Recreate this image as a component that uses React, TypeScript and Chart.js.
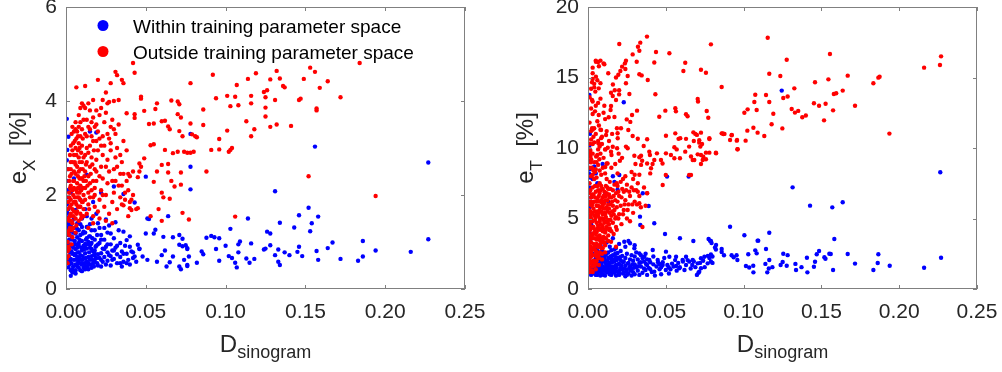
import { useEffect, useRef } from "react";
import { Chart, registerables } from "chart.js";
Chart.register(...registerables);

type Pt = [number, number];

const X_TICKS = [0, 0.05, 0.1, 0.15, 0.2, 0.25];
const EX_TICKS = [0, 2, 4, 6];
const ET_TICKS = [0, 5, 10, 15, 20];
const SERIES_NAMES = ["Within training parameter space", "Outside training parameter space"];
const X_TITLE = ["D", "sinogram"];
const EX_TITLE = ["e", "X", "  [%]"];
const ET_TITLE = ["e", "T", "  [%]"];

const EX_WITHIN: Pt[] = [
  [0.227,2.69],[0.156,3.03],[0.078,3.30],[0.078,2.60],[0.078,2.12],[0.131,2.08],[0.227,1.06],[0.152,1.73],[0.158,1.54],[0.146,1.57],
  [0.154,1.40],[0.153,1.23],[0.143,1.31],[0.134,1.41],[0.126,1.22],[0.128,1.18],[0.114,1.50],[0.103,1.28],[0.091,1.13],[0.093,1.10],
  [0.088,1.09],[0.096,1.08],[0.100,0.92],[0.109,1.01],[0.108,0.95],[0.116,0.97],[0.108,0.78],[0.102,0.70],[0.104,0.66],[0.106,0.56],
  [0.107,0.46],[0.113,0.65],[0.115,0.56],[0.118,0.64],[0.124,0.84],[0.125,0.86],[0.128,0.93],[0.133,0.84],[0.131,0.72],[0.133,0.58],
  [0.134,0.51],[0.137,0.78],[0.140,0.72],[0.145,0.79],[0.146,0.90],[0.148,0.70],[0.157,0.81],[0.158,0.62],[0.164,0.87],[0.167,0.99],
  [0.172,0.64],[0.183,0.60],[0.186,0.69],[0.186,1.02],[0.194,0.82],[0.216,0.79],[0.094,0.85],[0.096,0.60],[0.085,0.80],[0.086,0.74],
  [0.082,0.56],[0.076,0.49],[0.074,0.62],[0.076,0.85],[0.075,0.93],[0.073,1.07],[0.050,2.39],[0.043,1.84],[0.036,2.02],[0.022,2.05],
  [0.013,2.43],[0.015,3.35],[0.019,3.33],[0.0015,3.24],[0.0005,3.62],[0.0008,2.96],[0.0005,2.74],[0.064,1.55],[0.052,1.49],[0.056,1.26],
  [0.050,1.18],[0.055,1.18],[0.061,1.11],[0.067,1.10],[0.071,1.15],[0.071,0.94],[0.073,0.91],[0.076,0.87],[0.045,0.94],[0.046,0.86],
  [0.042,0.78],[0.040,0.90],[0.038,1.04],[0.043,0.69],[0.048,0.69],[0.051,0.62],[0.057,0.58],[0.060,0.72],[0.062,0.82],[0.063,0.48],
  [0.065,0.57],[0.067,0.69],[0.071,0.48],[0.072,0.42],[0.077,0.69],[0.076,0.51],[0.030,2.18],[0.051,1.50],
  [0.001,2.55],[0.0006,2.30],[0.001,2.10],[0.0012,1.95],[0.0007,1.80],[0.0015,1.70],[0.0009,1.62],[0.002,1.55],[0.001,1.45],[0.0018,1.38],
  [0.0012,1.30],[0.0025,1.22],[0.0015,1.15],[0.002,1.05],[0.0008,0.98],[0.003,0.92],[0.0012,0.85],[0.0025,0.78],[0.0018,0.70],[0.003,0.64],
  [0.001,0.58],[0.0022,0.52],[0.0015,0.46],[0.003,0.40],[0.004,0.35],[0.003,0.28],[0.006,0.33],
  [0.004,1.45],[0.005,1.30],[0.006,1.18],[0.004,1.05],[0.005,0.95],[0.006,0.85],[0.004,0.75],[0.005,0.62],[0.006,0.52],[0.007,1.40],
  [0.008,1.25],[0.007,1.10],[0.008,0.98],[0.007,0.88],[0.008,0.78],[0.007,0.68],[0.008,0.58],[0.007,0.48],[0.009,0.40],[0.010,1.50],
  [0.010,1.32],[0.009,1.15],[0.010,1.02],[0.011,0.92],[0.010,0.82],[0.009,0.72],[0.011,0.64],[0.010,0.55],[0.011,0.46],[0.012,1.20],
  [0.013,1.08],[0.012,0.96],[0.013,0.86],[0.012,0.76],[0.014,0.68],[0.013,0.58],[0.012,0.50],[0.014,0.42],[0.015,1.38],[0.016,1.25],
  [0.015,1.12],[0.016,0.98],[0.015,0.88],[0.017,0.80],[0.016,0.70],[0.015,0.62],[0.017,0.55],[0.016,0.45],[0.018,1.05],[0.019,0.92],
  [0.018,0.82],[0.020,0.74],[0.019,0.66],[0.018,0.58],[0.020,0.50],[0.021,1.30],[0.022,1.15],[0.021,0.98],[0.023,0.86],[0.022,0.76],
  [0.021,0.66],[0.023,0.58],[0.022,0.48],[0.024,1.05],[0.025,0.90],[0.026,0.78],[0.024,0.68],[0.026,0.60],[0.025,0.52],[0.027,1.35],
  [0.028,1.18],[0.028,0.95],[0.029,0.82],[0.027,0.72],[0.029,0.62],[0.028,0.50],[0.030,1.08],[0.031,0.88],[0.032,0.74],[0.030,0.64],
  [0.032,0.55],[0.033,1.25],[0.034,0.98],[0.035,0.80],[0.034,0.68],[0.036,0.58],[0.035,0.48],[0.037,0.92],[0.038,0.75],[0.039,0.62],
  [0.040,0.52],[0.041,0.80],[0.042,0.66],[0.044,0.58],[0.046,0.85],[0.025,1.48],[0.019,1.60],[0.013,1.55],[0.031,1.42],[0.036,1.22],
  [0.040,1.12],[0.012,1.70],[0.017,1.85],[0.009,1.90],[0.006,1.68],[0.008,2.15],[0.005,2.35],[0.003,2.05]
];

const EX_WITHIN_CORE: Pt[] = [
  [0.0015,0.62],[0.0025,0.95],[0.0035,1.12],[0.0035,0.55],[0.0045,0.88],[0.0045,0.48],[0.0055,1.02],[0.0055,0.72],[0.0065,0.62],[0.0065,0.95],
  [0.0075,0.78],[0.0075,0.55],[0.0085,1.05],[0.0085,0.65],[0.0095,0.88],[0.0095,0.52],[0.0105,0.70],[0.0105,1.18],[0.0115,0.85],[0.0115,0.55],
  [0.0125,1.05],[0.0125,0.66],[0.0135,0.95],[0.0135,0.48],[0.0145,0.78],[0.0145,1.12],[0.0155,0.52],[0.0155,0.95],[0.0165,0.62],[0.0165,1.08],
  [0.0175,0.72],[0.0175,0.48],[0.0185,0.90],[0.0185,0.65],[0.0195,1.15],[0.0195,0.55],[0.003,1.35],[0.005,1.50],[0.007,1.28],[0.009,1.38],
  [0.011,1.22],[0.013,1.32],[0.004,0.42],[0.006,0.40],[0.008,0.45],[0.010,0.38],[0.012,0.42],[0.014,0.55],[0.0025,0.60],[0.0035,0.80],
  [0.0045,1.20],[0.006,0.75],[0.008,0.92],[0.010,0.62],[0.012,0.88],[0.014,1.00],[0.016,0.85],[0.018,0.75],[0.020,0.95],[0.022,0.62],
  [0.024,0.85],[0.026,0.95],[0.028,0.70],[0.030,0.82],[0.032,0.92],[0.034,0.55],[0.036,0.75],[0.038,0.55],[0.022,1.05],[0.026,1.20],
  [0.018,1.25],[0.020,1.40],[0.024,1.30],[0.016,1.50]
];

const EX_OUTSIDE: Pt[] = [
  [0.184,4.81],[0.153,4.71],[0.156,4.62],[0.132,4.64],[0.119,4.59],[0.092,4.56],[0.164,4.42],[0.149,4.47],[0.134,4.48],[0.128,4.46],
  [0.114,4.47],[0.107,4.34],[0.078,4.38],[0.137,4.29],[0.136,4.32],[0.124,4.19],[0.126,4.23],[0.159,4.28],[0.172,4.08],[0.146,4.02],
  [0.147,4.05],[0.131,4.02],[0.125,4.08],[0.116,4.11],[0.116,3.95],[0.106,4.09],[0.101,4.11],[0.103,3.89],[0.108,3.91],[0.094,4.06],
  [0.086,3.82],[0.157,3.84],[0.157,3.80],[0.125,3.86],[0.125,3.67],[0.113,3.57],[0.128,3.45],[0.132,3.50],[0.141,3.47],[0.118,3.40],
  [0.116,3.25],[0.101,3.37],[0.086,3.49],[0.082,3.23],[0.078,3.52],[0.096,3.19],[0.091,2.96],[0.096,2.97],[0.103,2.96],[0.104,3.00],
  [0.102,2.92],[0.088,2.50],[0.152,2.40],[0.194,1.98],[0.106,1.54],[0.077,1.48],[0.078,2.90],
  [0.042,4.81],[0.031,4.62],[0.043,4.60],[0.032,4.55],[0.020,4.45],[0.035,4.45],[0.036,4.38],[0.028,4.38],[0.012,4.32],[0.0065,4.29],
  [0.025,4.18],[0.047,4.09],[0.047,4.05],[0.033,4.02],[0.030,4.00],[0.027,3.98],[0.023,4.02],[0.017,4.02],[0.038,3.74],[0.043,3.72],
  [0.043,3.64],[0.049,3.79],[0.056,3.83],[0.066,4.01],[0.070,3.99],[0.071,3.93],[0.070,3.72],[0.072,3.65],[0.057,3.95],[0.052,3.51],
  [0.055,3.52],[0.060,3.57],[0.062,3.58],[0.064,3.46],[0.065,3.40],[0.071,3.36],[0.073,3.25],[0.079,3.29],[0.081,3.25],[0.053,3.06],
  [0.055,3.08],[0.062,2.96],[0.067,2.89],[0.070,2.92],[0.074,2.92],[0.076,2.90],[0.080,2.92],[0.049,2.78],[0.046,2.67],[0.047,2.60],
  [0.060,2.64],[0.064,2.66],[0.057,2.50],[0.064,2.48],[0.072,2.48],[0.046,2.50],[0.045,2.38],[0.040,2.40],[0.042,2.50],[0.055,2.28],
  [0.066,2.30],[0.068,2.18],[0.072,2.22],[0.060,2.05],[0.061,1.95],[0.065,1.92],[0.058,1.70],[0.060,1.45],[0.053,1.55],[0.044,1.70],
  [0.045,1.72],[0.073,1.62],[0.040,1.85],[0.042,2.00],
  [0.004,3.45],[0.006,3.55],[0.008,3.70],[0.009,3.85],[0.010,3.95],[0.014,3.95],[0.015,3.80],[0.007,3.35],
  [0.001,0.55],[0.0015,0.70],[0.002,0.85],[0.001,1.00],[0.002,1.15],[0.0025,1.30],[0.002,1.45],[0.003,1.60],[0.0025,1.75],[0.003,1.90],
  [0.002,2.05],[0.003,2.20],[0.0025,2.40],[0.003,2.55],[0.004,2.70],[0.0035,0.95],[0.004,1.10],[0.0035,1.25],[0.004,1.40],[0.0045,1.55],
  [0.004,1.70],[0.005,1.85],[0.0045,2.00],[0.005,2.15],[0.0045,2.30],[0.005,2.50],[0.006,2.65],[0.005,2.85],[0.006,3.00],[0.0055,3.15],
  [0.006,1.20],[0.0065,1.35],[0.006,1.50],[0.007,1.65],[0.0065,1.80],[0.007,1.95],[0.0065,2.10],[0.007,2.25],[0.0075,2.40],[0.007,2.60],
  [0.008,2.80],[0.0075,2.95],[0.008,3.10],[0.0075,3.25],[0.008,1.45],[0.009,1.60],[0.0085,1.75],[0.009,1.90],[0.0085,2.05],[0.009,2.20],
  [0.0095,2.35],[0.009,2.55],[0.010,2.70],[0.0095,2.90],[0.010,3.05],[0.0105,3.20],[0.010,1.55],[0.011,1.70],[0.0105,1.85],[0.011,2.00],
  [0.012,2.15],[0.011,2.30],[0.012,2.50],[0.0125,2.65],[0.012,2.85],[0.013,3.00],[0.012,3.30],[0.013,1.60],[0.014,1.80],[0.014,2.05],
  [0.015,2.25],[0.014,2.40],[0.015,2.60],[0.016,2.80],[0.015,3.05],[0.016,3.25],[0.014,3.45],[0.013,3.60],[0.012,3.85],[0.011,3.90],
  [0.016,3.55],[0.017,1.55],[0.018,1.75],[0.017,1.95],[0.018,2.15],[0.019,2.30],[0.018,2.55],[0.019,2.75],[0.020,2.95],[0.019,3.15],
  [0.020,3.35],[0.018,3.45],[0.017,3.65],[0.019,3.80],[0.021,3.70],[0.022,3.85],[0.020,1.65],[0.021,1.90],[0.022,2.10],[0.023,2.35],
  [0.022,2.60],[0.023,2.85],[0.024,3.05],[0.023,3.25],[0.024,3.55],[0.025,3.75],[0.026,3.95],[0.024,1.75],[0.025,2.00],[0.026,2.25],
  [0.027,2.50],[0.026,2.75],[0.028,2.95],[0.027,3.20],[0.028,3.45],[0.029,3.60],[0.027,1.60],[0.029,1.85],[0.030,2.05],[0.031,2.30],
  [0.030,2.55],[0.031,2.80],[0.032,3.00],[0.031,3.30],[0.033,3.50],[0.032,1.70],[0.034,1.95],[0.035,2.20],[0.034,2.45],[0.035,2.70],
  [0.036,1.78],[0.037,2.05],[0.038,2.30],[0.039,2.45],[0.040,1.72],[0.039,1.55],[0.041,1.68],[0.035,1.80],[0.036,3.15],[0.038,2.95],
  [0.017,1.40],[0.021,1.50],[0.025,1.45],[0.029,1.40],[0.014,1.30]
];

const EX_OUTSIDE_CORE: Pt[] = [
  [0.0015,0.90],[0.002,1.25],[0.0025,1.55],[0.0015,1.85],[0.0025,2.15],[0.002,2.30],[0.003,2.70],[0.0035,1.45],[0.0035,1.80],[0.004,2.10],
  [0.0035,2.45],[0.004,2.95],[0.0045,3.10],[0.0045,1.30],[0.005,1.65],[0.0055,1.95],[0.005,2.30],[0.0055,2.70],[0.006,2.45],[0.0065,2.85],
  [0.0065,3.20],[0.006,1.85],[0.0065,1.60],[0.007,2.05],[0.0075,1.75],[0.0075,2.15],[0.008,2.50],[0.008,1.95],[0.0085,2.35],[0.0085,2.70],
  [0.0085,3.00],[0.009,3.25],[0.009,1.75],[0.0095,2.10],[0.0095,1.50],[0.010,2.35],[0.010,1.85],[0.0105,2.55],[0.0105,2.15],[0.011,2.80],
  [0.011,1.55],[0.0115,2.40],[0.012,1.90],[0.0125,2.30],[0.013,2.70],[0.0135,2.20],[0.014,2.90],[0.0145,1.70],[0.015,1.95],[0.0155,2.45],
  [0.016,2.10],[0.0165,2.65],[0.017,2.30],[0.0175,2.95],[0.018,2.00],[0.019,2.50],[0.0005,0.65],[0.001,0.80],[0.001,1.20],[0.0015,1.50],
  [0.001,1.70],[0.002,1.95],[0.0015,2.55],[0.0025,2.85],[0.003,3.05],[0.0035,3.30],[0.005,3.35],[0.006,3.40],[0.008,3.45],[0.009,3.55],
  [0.010,3.40],[0.011,3.60],[0.013,3.25],[0.015,3.40],[0.017,3.15],[0.019,3.50],[0.021,3.20],[0.022,3.05],[0.021,2.40],[0.023,2.00],
  [0.025,2.60],[0.026,3.30],[0.028,3.10],[0.030,3.40],[0.032,2.60],[0.029,2.30],[0.033,2.20],[0.037,1.90],[0.034,2.85],[0.036,2.45],
  [0.039,2.10],[0.041,1.90]
];

const ET_WITHIN: Pt[] = [
  [0.2264,8.28],[0.1315,7.21],[0.1427,5.91],[0.157,5.79],[0.1637,6.15],[0.1245,14.07],[0.0913,4.42],[0.1005,3.81],[0.1165,3.99],[0.109,3.43],
  [0.1583,3.55],[0.0677,3.40],[0.0784,3.43],[0.0775,3.55],[0.0823,3.12],[0.0859,2.84],[0.0859,2.62],[0.0874,2.39],[0.0923,2.39],[0.0936,2.25],
  [0.0955,2.39],[0.096,2.06],[0.103,2.46],[0.1075,2.74],[0.1084,2.53],[0.1144,2.84],[0.1165,2.06],[0.1015,1.63],[0.1036,1.53],[0.1062,1.65],
  [0.1063,1.18],[0.1152,1.18],[0.1162,1.45],[0.1185,1.55],[0.114,1.78],[0.1238,1.70],[0.1251,1.92],[0.1283,2.40],[0.1255,2.50],[0.1277,1.65],
  [0.1333,1.78],[0.1337,1.35],[0.1372,1.55],[0.141,1.18],[0.1452,1.58],[0.1459,1.93],[0.147,2.46],[0.1485,2.70],[0.1407,2.22],[0.1519,2.25],
  [0.1526,2.15],[0.1551,2.50],[0.156,2.48],[0.1575,1.35],[0.1669,2.48],[0.1716,1.80],[0.1834,1.35],[0.1862,1.84],[0.1866,2.46],[0.1939,1.65],
  [0.216,1.51],[0.2269,2.22],[0.0508,7.97],[0.0647,7.97],[0.039,5.89],[0.0334,5.13],[0.0336,4.54],[0.0426,4.66],[0.0495,3.90],[0.0591,3.60],
  [0.079,3.40],[0.0794,3.26],[0.0816,2.95],[0.0822,2.80],[0.1094,3.43],
  [0.0416,2.77],[0.0448,2.06],[0.0458,1.77],[0.0501,2.65],[0.0523,2.29],[0.0566,2.29],[0.0608,2.06],[0.063,2.29],[0.0651,1.94],[0.0673,2.06],
  [0.0705,1.82],[0.0726,2.18],[0.0748,2.29],[0.0769,1.82],[0.0715,1.23],[0.0726,1.47],[0.0566,1.63],[0.0587,1.47],[0.0519,1.54],[0.048,1.70],
  [0.0373,1.77],[0.0426,1.23],[0.0394,2.06],[0.0362,2.29],[0.033,2.53],[0.0298,2.89],[0.027,3.24],[0.0233,3.35],
  [0.0009,13.76],[0.0009,9.67],[0.001,9.0],[0.0094,8.87],[0.0012,8.5],[0.0015,7.9],[0.001,7.2],[0.002,6.5],[0.001,5.8],[0.0015,5.2],
  [0.002,4.6],[0.001,4.0],[0.0015,3.5],[0.001,3.0],[0.002,2.6],[0.001,2.2],[0.002,1.8],[0.001,1.5],[0.0025,1.2],
  [0.023,13.24],[0.0201,8.09],[0.004,8.7],[0.005,8.2],[0.003,7.8],[0.006,7.5],[0.016,8.0],[0.017,7.6],[0.019,7.05],[0.0352,6.79],
  [0.011,6.8],[0.013,6.2],
  [0.003,1.1],[0.004,1.35],[0.005,1.6],[0.004,1.9],[0.005,2.2],[0.006,1.0],[0.007,1.25],[0.006,1.5],[0.007,1.8],[0.008,2.05],
  [0.007,2.35],[0.009,1.1],[0.008,1.4],[0.009,1.65],[0.010,1.95],[0.009,2.3],[0.010,2.6],[0.011,0.95],[0.012,1.2],[0.011,1.45],
  [0.012,1.7],[0.011,2.0],[0.013,2.2],[0.012,2.5],[0.014,1.05],[0.013,1.35],[0.015,1.6],[0.014,1.85],[0.015,2.1],[0.016,2.4],
  [0.015,2.75],[0.017,1.15],[0.016,1.4],[0.018,1.7],[0.017,1.95],[0.018,2.25],[0.019,2.55],[0.018,2.9],[0.020,1.0],[0.019,1.25],
  [0.021,1.5],[0.020,1.8],[0.021,2.05],[0.022,2.35],[0.021,2.7],[0.023,1.15],[0.022,1.4],[0.024,1.65],[0.023,1.95],[0.024,2.2],
  [0.025,2.5],[0.024,3.0],[0.026,1.1],[0.025,1.35],[0.027,1.6],[0.026,1.85],[0.027,2.1],[0.028,2.4],[0.029,1.2],[0.028,1.45],
  [0.030,1.75],[0.029,2.0],[0.030,2.3],[0.031,2.6],[0.032,1.3],[0.031,1.55],[0.033,1.85],[0.032,2.1],[0.034,2.4],[0.035,1.15],
  [0.034,1.6],[0.036,1.95],[0.035,2.2],[0.037,1.35],[0.038,1.7],[0.037,2.5],[0.039,1.5],[0.040,1.9],[0.041,1.2],[0.042,2.3],
  [0.044,1.6],[0.046,1.4],[0.048,1.9],[0.050,1.35],[0.052,1.1],[0.054,1.8],[0.056,2.05],[0.058,1.85],[0.061,1.95],[0.063,1.7],
  [0.066,1.45],[0.068,1.95],[0.070,1.0],[0.071,1.15],[0.074,2.0],[0.077,2.35],[0.079,1.95],[0.080,1.85],[0.008,0.95],[0.010,1.3],
  [0.006,2.7],[0.004,2.9],[0.008,3.1],[0.012,3.3],[0.016,3.6],[0.020,3.2],[0.026,3.4],[0.030,3.1],[0.014,3.0],[0.018,0.95],
  [0.024,0.9],[0.028,0.95],[0.033,1.0],[0.038,1.0],[0.043,0.95],[0.047,1.05]
];

const ET_WITHIN_CORE: Pt[] = [
  [0.002,1.0],[0.003,1.5],[0.0035,2.0],[0.0045,1.15],[0.0045,1.75],[0.0055,1.35],[0.0055,2.0],[0.0065,1.2],[0.0065,1.7],[0.0075,1.5],
  [0.0075,2.1],[0.0085,1.15],[0.0085,1.8],[0.0095,1.35],[0.0095,2.0],[0.0105,1.55],[0.0105,2.2],[0.0115,1.25],[0.0115,1.8],[0.0125,1.5],
  [0.0125,2.0],[0.0135,1.15],[0.0135,1.65],[0.0145,1.4],[0.0145,2.3],[0.0155,1.2],[0.0155,1.9],[0.0165,1.6],[0.0165,2.1],[0.0175,1.35],
  [0.0175,2.5],[0.0185,1.5],[0.0185,2.05],[0.0195,1.15],[0.0195,1.75],[0.0205,1.35],[0.0205,2.25],[0.0215,1.65],[0.0225,1.1],[0.0225,1.9],
  [0.0235,1.45],[0.0245,1.25],[0.0255,1.8],[0.0265,1.5],[0.0275,1.3],[0.0285,1.75],[0.0295,1.5],[0.003,2.5],[0.005,2.8],[0.007,2.6],
  [0.009,2.7],[0.011,2.4],[0.013,2.6],[0.015,2.3],[0.017,2.8],[0.019,2.2],[0.005,1.0],[0.01,1.0],[0.015,1.0],[0.02,1.1],
  [0.025,1.0],[0.03,1.05],[0.032,1.6],[0.034,1.9],[0.036,1.45],[0.038,2.1],[0.040,1.4],[0.042,1.75],[0.045,1.9],[0.047,1.55],
  [0.049,2.2],[0.051,1.7],[0.053,1.4],[0.055,1.6],[0.057,1.3],[0.059,1.55],[0.062,1.35],[0.064,2.05],[0.067,1.7],[0.069,1.55],
  [0.072,1.85],[0.075,1.55],[0.078,2.2],[0.080,2.3],[0.079,2.45],[0.0005,1.1],[0.0008,3.6],[0.0008,4.4],[0.0006,6.2],[0.0008,6.9],
  [0.0006,8.2],[0.001,10.2],[0.0012,11.0]
];

const ET_OUTSIDE: Pt[] = [
  [0.1155,17.82],[0.079,17.35],[0.1555,16.67],[0.1277,16.26],[0.2269,16.50],[0.2262,15.89],[0.216,15.70],[0.0726,15.55],[0.0758,15.34],[0.1165,15.27],
  [0.1236,15.11],[0.0859,14.33],[0.1459,14.66],[0.1545,14.87],[0.1669,15.13],[0.1866,14.99],[0.1874,15.05],[0.1834,14.59],[0.1326,14.23],[0.1637,14.07],
  [0.158,13.83],[0.1595,13.88],[0.1075,13.78],[0.1144,13.76],[0.1255,13.55],[0.1283,13.65],[0.0705,13.48],[0.0707,13.29],[0.1069,13.26],[0.1165,13.26],
  [0.1084,12.70],[0.1026,12.74],[0.1005,12.50],[0.1191,12.43],[0.1309,12.77],[0.133,12.51],[0.1351,12.63],[0.1377,12.18],[0.14,12.30],[0.1485,13.0],
  [0.1452,13.17],[0.1527,13.14],[0.1575,12.67],[0.1716,13.00],[0.1517,11.96],[0.1937,11.02],[0.118,11.68],[0.1249,11.39],[0.109,11.09],[0.1133,10.85],
  [0.1063,11.44],[0.1024,11.23],[0.1013,10.52],[0.0958,10.57],[0.096,9.91],[0.0923,10.90],[0.0913,10.57],[0.087,10.99],[0.0859,11.04],[0.0726,11.09],
  [0.0715,10.38],[0.078,10.69],[0.0773,12.15],[0.0763,12.62],[0.0758,9.67],[0.0823,9.62],[0.0726,8.87],[0.0758,9.20],[0.0741,9.38],[0.0705,9.55],
  [0.0673,9.15],[0.0662,8.09],[0.068,10.50],[0.069,11.00],
  [0.0379,17.9],[0.0201,17.38],[0.0336,17.47],[0.0321,17.18],[0.033,16.9],[0.0287,16.64],[0.0437,16.81],[0.0523,16.72],[0.0244,16.19],[0.0237,16.0],
  [0.0313,16.12],[0.0219,15.77],[0.0208,15.46],[0.0195,15.2],[0.0240,15.6],[0.0255,15.11],[0.0244,14.59],[0.033,15.23],[0.0345,15.15],[0.0384,14.82],
  [0.0426,16.06],[0.0625,16.05],[0.0613,15.46],[0.0051,16.12],[0.0105,15.94],[0.003,15.7],[0.0051,15.06],[0.0026,14.66],[0.004,14.55],[0.0069,14.23],
  [0.002,14.2],[0.0047,14.0],[0.0026,13.4],[0.003,13.3],[0.0148,13.92],[0.0172,14.1],[0.020,14.1],[0.020,13.8],[0.0159,13.69],[0.018,13.40],
  [0.0266,13.83],[0.0148,12.98],[0.0433,13.81],[0.0497,12.65],[0.0561,12.82],[0.0565,12.6],[0.0458,12.22],[0.063,12.39],[0.064,12.25],[0.0315,12.65],
  [0.0283,12.34],[0.0249,12.03],[0.0272,11.85],[0.0259,11.28],[0.0212,11.40],[0.0186,11.40],[0.019,11.05],[0.0133,12.18],[0.011,12.05],[0.0069,12.34],
  [0.003,12.41],[0.0026,11.40],[0.003,11.3],[0.0084,11.28],[0.0116,10.92],[0.0084,10.7],[0.003,10.28],[0.0066,10.35],[0.009,10.28],[0.0075,10.1],
  [0.0065,9.9],[0.0013,9.9],[0.0013,9.6],[0.0052,9.4],[0.0112,9.9],[0.0127,10.02],[0.0159,10.09],[0.0187,9.98],[0.0244,10.1],[0.0255,9.98],
  [0.0287,10.85],[0.0191,10.69],[0.0148,9.74],[0.0151,9.5],[0.0197,9.6],[0.0219,9.3],[0.0205,9.1],[0.0175,8.87],[0.0126,8.9],[0.0111,8.65],
  [0.0073,9.2],[0.0019,8.99],[0.0358,10.14],[0.0394,9.74],[0.0398,9.5],[0.033,9.34],[0.0341,9.45],[0.0426,9.15],[0.0415,8.87],[0.0341,8.8],
  [0.0305,8.87],[0.0405,8.56],[0.0501,10.87],[0.0561,11.04],[0.0582,10.65],[0.0593,10.7],[0.063,10.65],[0.0677,11.11],[0.070,10.93],[0.0715,10.55],
  [0.0733,10.28],[0.0722,10.1],[0.078,10.64],[0.0866,11.04],[0.0877,11.0],[0.0924,10.93],[0.0956,10.52],[0.0962,9.91],[0.0555,10.05],[0.057,9.9],
  [0.0533,9.50],[0.0501,9.62],[0.0555,9.27],[0.0591,9.27],[0.0625,9.74],[0.065,10.1],[0.0662,9.4],[0.0683,9.15],[0.0726,9.5],[0.0737,9.15],
  [0.078,9.67],[0.0822,9.67],[0.0469,9.15],[0.0443,9.62],[0.0479,8.9],[0.0348,9.1],[0.0380,8.9],[0.0298,9.45],[0.0320,10.66],[0.0380,10.62],
  [0.050,8.09],[0.065,8.09],[0.040,8.20],[0.048,7.38],[0.038,6.79],[0.033,6.08],[0.0137,4.18],[0.0148,3.35],[0.018,3.0],
  [0.001,1.4],[0.0015,1.8],[0.001,2.2],[0.002,2.6],[0.0015,3.0],[0.001,3.4],[0.002,3.8],[0.0015,4.2],[0.001,4.6],[0.002,5.0],
  [0.0015,5.5],[0.001,6.0],[0.002,6.5],[0.0015,7.0],[0.001,7.5],[0.002,8.0],[0.001,8.6],[0.002,9.2],[0.0015,9.8],[0.001,10.3],
  [0.002,10.6],[0.003,1.6],[0.0035,2.0],[0.003,2.4],[0.004,2.8],[0.0035,3.2],[0.003,3.6],[0.004,4.0],[0.0035,4.4],[0.003,4.8],
  [0.004,5.2],[0.0035,5.7],[0.004,6.2],[0.0035,6.7],[0.003,7.2],[0.004,7.8],[0.0035,8.4],[0.004,9.0],[0.003,9.6],[0.004,10.4],
  [0.005,1.9],[0.0055,2.3],[0.005,2.7],[0.006,3.1],[0.0055,3.5],[0.005,3.9],[0.006,4.3],[0.0055,4.7],[0.005,5.1],[0.006,5.5],
  [0.0055,5.9],[0.006,6.4],[0.005,6.9],[0.006,7.3],[0.0055,7.9],[0.005,8.5],[0.006,9.5],[0.0065,10.5],[0.007,2.2],[0.0075,2.6],
  [0.007,3.0],[0.008,3.4],[0.0075,3.8],[0.007,4.2],[0.008,4.6],[0.0075,5.0],[0.007,5.4],[0.008,5.8],[0.0075,6.2],[0.007,6.6],
  [0.008,7.0],[0.0075,7.5],[0.009,2.5],[0.0095,2.9],[0.009,3.3],[0.010,3.7],[0.0095,4.1],[0.009,4.5],[0.010,4.9],[0.0095,5.3],
  [0.010,5.7],[0.009,6.1],[0.010,6.6],[0.0095,7.1],[0.011,3.1],[0.0115,3.6],[0.011,4.0],[0.012,4.4],[0.0115,4.8],[0.011,5.3],
  [0.012,5.8],[0.011,6.3],[0.012,6.8],[0.0115,7.3],[0.012,7.8],[0.013,3.8],[0.014,4.3],[0.013,4.9],[0.014,5.4],[0.013,6.0],
  [0.014,6.5],[0.013,7.1],[0.014,7.6],[0.015,4.1],[0.016,4.7],[0.015,5.2],[0.016,5.9],[0.015,6.5],[0.016,7.0],[0.017,7.4],
  [0.018,4.4],[0.018,5.1],[0.017,5.6],[0.019,6.2],[0.018,6.8],[0.019,7.3],[0.020,5.3],[0.021,5.9],[0.020,6.6],[0.022,7.1],
  [0.021,7.6],[0.023,5.6],[0.024,6.3],[0.023,6.9],[0.025,7.4],[0.025,5.0],[0.026,6.0],[0.027,6.6],[0.028,7.2],[0.029,7.8],
  [0.027,4.8],[0.029,5.4],[0.030,6.2],[0.031,7.0],[0.032,7.5],[0.033,6.6],[0.034,5.8],[0.035,4.4],[0.036,7.2],[0.037,5.9],
  [0.038,6.8],[0.033,8.1],[0.030,8.1],[0.028,8.3],[0.024,8.0],[0.019,8.2],[0.015,8.6],[0.012,8.9],[0.010,9.3],[0.008,9.6],
  [0.011,9.9],[0.007,10.3],[0.009,10.8],[0.008,11.3],[0.006,11.9],[0.004,11.4],[0.010,12.5],[0.005,13.0],[0.008,13.5],[0.004,14.3],
  [0.006,14.8],[0.003,15.3],[0.007,15.8],[0.005,16.2],[0.010,16.0]
];

const ET_OUTSIDE_CORE: Pt[] = [
  [0.0005,1.6],[0.001,2.0],[0.0005,2.4],[0.001,2.8],[0.0005,3.2],[0.0015,3.6],[0.0005,4.0],[0.001,4.4],[0.0005,4.8],[0.0015,5.2],
  [0.0005,5.6],[0.001,6.2],[0.0005,6.8],[0.0025,1.3],[0.0025,1.9],[0.002,2.3],[0.0025,2.8],[0.002,3.3],[0.0025,3.8],[0.002,4.3],
  [0.0025,4.8],[0.002,5.4],[0.0025,5.9],[0.002,6.2],[0.0025,6.7],[0.003,1.9],[0.003,2.9],[0.003,3.9],[0.003,4.4],[0.003,5.4],
  [0.003,6.1],[0.0045,1.7],[0.0045,2.4],[0.0045,3.0],[0.0045,3.6],[0.0045,4.2],[0.0045,4.9],[0.0045,5.5],[0.0045,6.5],[0.0045,7.3],
  [0.0055,2.0],[0.0055,2.6],[0.0055,3.2],[0.0055,4.0],[0.0055,5.3],[0.0055,6.2],[0.0065,2.4],[0.0065,3.0],[0.0065,3.7],[0.0065,4.5],
  [0.0065,5.2],[0.0065,5.9],[0.0065,7.0],[0.0075,3.1],[0.0075,3.5],[0.0075,4.3],[0.0075,4.8],[0.0075,5.6],[0.0075,6.8],[0.0085,2.9],
  [0.0085,3.6],[0.0085,4.2],[0.0085,5.0],[0.0085,5.5],[0.0085,6.3],[0.0085,7.3],[0.0095,3.5],[0.0095,4.4],[0.0095,5.0],[0.0095,5.9],
  [0.0095,6.5],[0.0105,3.3],[0.0105,4.2],[0.0105,4.7],[0.0105,5.4],[0.0105,6.1],[0.0105,6.9],[0.0115,4.2],[0.0115,5.1],[0.0115,5.7],
  [0.0115,6.6],[0.0125,4.7],[0.0125,5.5],[0.0125,6.3],[0.0125,7.2],[0.0135,4.6],[0.0135,5.7],[0.0135,6.7],[0.0145,4.9],[0.0145,6.0],
  [0.0145,7.1],[0.0155,5.5],[0.0155,6.2],[0.0165,5.3],[0.0165,6.6],[0.0175,5.0],[0.0175,6.3],[0.0185,5.8],[0.0185,7.5],[0.0195,5.0],
  [0.0195,6.9],[0.0215,6.5],[0.0225,5.3],[0.0235,6.0],[0.0245,7.0],[0.0255,5.6],[0.0265,6.9],[0.0285,6.0],[0.0295,7.0],[0.0315,6.0],
  [0.032,6.9],[0.0225,7.8],[0.0215,4.6],[0.0185,4.2],[0.0165,3.9],[0.013,3.4],[0.011,2.6],[0.009,2.1],[0.007,1.7],[0.005,1.4],
  [0.003,1.2],[0.001,1.2],[0.002,11.2],[0.001,11.8],[0.002,12.8],[0.001,13.6],[0.0025,8.6],[0.0015,9.4],[0.003,8.1],[0.0045,8.3],
  [0.0055,9.0],[0.0065,8.8],[0.0075,8.4],[0.0085,8.1],[0.0095,8.6],[0.011,8.2],[0.0035,10.8],[0.005,11.0],[0.007,11.6],[0.0045,12.6],
  [0.0065,13.2],[0.003,14.9],[0.008,14.6],[0.0105,13.0],[0.012,11.2],[0.0135,10.5],[0.0155,11.0],[0.017,12.2],[0.0145,12.7],[0.016,14.5],
  [0.018,15.0],[0.013,15.3],[0.008,16.2],[0.0065,16.1]
];

const FONT = '"Liberation Sans", Arial, Helvetica, sans-serif';
const BLUE = "#0000ff";
const RED = "#ff0000";
const AXIS_COLOR = "#262626";
const BOX_COLOR = "#808080";

interface PanelCfg {
  within: Pt[];
  outside: Pt[];
  yTicks: number[];
  yTitle: string[];
  yAxisWidth: number;
  rightPad: number;
  yTitleBaseX: number;
  legend: boolean;
}

function buildChart(canvas: HTMLCanvasElement, cfg: PanelCfg) {
  const yMax = cfg.yTicks[cfg.yTicks.length - 1];
  const zeroPad = (s: any) => {
    s.paddingTop = 0; s.paddingBottom = 0; s.paddingLeft = 0; s.paddingRight = 0;
  };
  const decor = {
    id: "decor",
    afterDatasetsDraw(chart: any) {
      const ctx = chart.ctx as CanvasRenderingContext2D;
      const a = chart.chartArea;
      const xs = chart.scales.x;
      const ys = chart.scales.y;
      ctx.save();
      ctx.strokeStyle = BOX_COLOR;
      ctx.lineWidth = 1;
      ctx.strokeRect(Math.round(a.left) + 0.5, Math.round(a.top) + 0.5, Math.round(a.right - a.left) - 1, Math.round(a.bottom - a.top) - 1);
      const tl = 4;
      ctx.beginPath();
      X_TICKS.forEach((v) => {
        const px = Math.round(xs.getPixelForValue(v)) + 0.5;
        ctx.moveTo(px, a.bottom); ctx.lineTo(px, a.bottom - tl);
        ctx.moveTo(px, a.top); ctx.lineTo(px, a.top + tl);
      });
      cfg.yTicks.forEach((v) => {
        const py = Math.round(ys.getPixelForValue(v)) + 0.5;
        ctx.moveTo(a.left, py); ctx.lineTo(a.left + tl, py);
        ctx.moveTo(a.right, py); ctx.lineTo(a.right - tl, py);
      });
      ctx.stroke();

      ctx.fillStyle = AXIS_COLOR;
      ctx.textBaseline = "alphabetic";
      ctx.textAlign = "left";
      const cx = (a.left + a.right) / 2;
      ctx.font = `24px ${FONT}`;
      const wD = ctx.measureText(X_TITLE[0]).width;
      ctx.font = `18px ${FONT}`;
      const wS = ctx.measureText(X_TITLE[1]).width;
      const x0 = cx - (wD + wS) / 2;
      const baseY = a.bottom + 63;
      ctx.font = `24px ${FONT}`;
      ctx.fillText(X_TITLE[0], x0, baseY);
      ctx.font = `18px ${FONT}`;
      ctx.fillText(X_TITLE[1], x0 + wD, baseY + 5.5);

      ctx.save();
      ctx.translate(cfg.yTitleBaseX, (a.top + a.bottom) / 2);
      ctx.rotate(-Math.PI / 2);
      ctx.font = `24px ${FONT}`;
      const w1 = ctx.measureText(cfg.yTitle[0]).width;
      const w3 = ctx.measureText(cfg.yTitle[2]).width;
      ctx.font = `17px ${FONT}`;
      const w2 = ctx.measureText(cfg.yTitle[1]).width;
      let tx = -(w1 + w2 + w3) / 2;
      ctx.font = `24px ${FONT}`;
      ctx.fillText(cfg.yTitle[0], tx, 0);
      tx += w1;
      ctx.font = `17px ${FONT}`;
      ctx.fillText(cfg.yTitle[1], tx, 9);
      tx += w2;
      ctx.font = `24px ${FONT}`;
      ctx.fillText(cfg.yTitle[2], tx, 0);
      ctx.restore();

      if (cfg.legend) {
        const colors = [BLUE, RED];
        SERIES_NAMES.forEach((name, i) => {
          const my = a.top + 18.5 + i * 26;
          ctx.fillStyle = colors[i];
          ctx.beginPath();
          ctx.arc(a.left + 37, my, 5.5, 0, Math.PI * 2);
          ctx.fill();
          ctx.fillStyle = "#000000";
          ctx.font = `19px ${FONT}`;
          ctx.textBaseline = "alphabetic";
          ctx.fillText(name, a.left + 67, a.top + 26 + i * 26);
        });
      }
      ctx.restore();
    },
  };

  return new Chart(canvas, {
    type: "scatter",
    data: {
      datasets: [
        {
          label: SERIES_NAMES[0],
          data: cfg.within.map(([x, y]) => ({ x, y })),
          backgroundColor: BLUE,
          borderWidth: 0,
          pointRadius: 2.2,
          pointHoverRadius: 2.2,
          order: 2,
        },
        {
          label: SERIES_NAMES[1],
          data: cfg.outside.map(([x, y]) => ({ x, y })),
          backgroundColor: RED,
          borderWidth: 0,
          pointRadius: 2.2,
          pointHoverRadius: 2.2,
          order: 1,
        },
      ],
    },
    options: {
      animation: false,
      responsive: false,
      events: [],
      layout: { padding: { top: 7, right: cfg.rightPad, bottom: 0, left: 0 } },
      plugins: { legend: { display: false }, tooltip: { enabled: false } },
      scales: {
        x: {
          type: "linear",
          min: 0,
          max: 0.25,
          grid: { display: false, drawTicks: false },
          border: { display: false },
          afterBuildTicks: (s: any) => { s.ticks = X_TICKS.map((value) => ({ value })); },
          afterFit: (s: any) => { s.height = 83; zeroPad(s); },
          ticks: {
            autoSkip: false,
            maxRotation: 0,
            padding: 11,
            color: AXIS_COLOR,
            font: { family: FONT, size: 21 },
            callback: (v: any) => Number(v).toFixed(2),
          },
        },
        y: {
          type: "linear",
          min: 0,
          max: yMax,
          grid: { display: false, drawTicks: false },
          border: { display: false },
          afterBuildTicks: (s: any) => { s.ticks = cfg.yTicks.map((value) => ({ value })); },
          afterFit: (s: any) => { s.width = cfg.yAxisWidth; zeroPad(s); },
          ticks: {
            autoSkip: false,
            padding: 9,
            color: AXIS_COLOR,
            font: { family: FONT, size: 21 },
            callback: (v: any) => String(v),
          },
        },
      },
    } as any,
    plugins: [decor],
  });
}

function Panel({ cfg, left, width }: { cfg: PanelCfg; left: number; width: number }) {
  const ref = useRef<HTMLCanvasElement | null>(null);
  useEffect(() => {
    if (!ref.current) return;
    const chart = buildChart(ref.current, cfg);
    return () => chart.destroy();
  }, [cfg]);
  return (
    <canvas
      ref={ref}
      width={width}
      height={372}
      style={{ position: "absolute", left, top: 0, width, height: 372 }}
    />
  );
}

const LEFT_CFG: PanelCfg = {
  within: EX_WITHIN.concat(EX_WITHIN_CORE),
  outside: EX_OUTSIDE.concat(EX_OUTSIDE_CORE),
  yTicks: EX_TICKS,
  yTitle: EX_TITLE,
  yAxisWidth: 66,
  rightPad: 35,
  yTitleBaseX: 25.5,
  legend: true,
};

const RIGHT_CFG: PanelCfg = {
  within: ET_WITHIN.concat(ET_WITHIN_CORE),
  outside: ET_OUTSIDE.concat(ET_OUTSIDE_CORE),
  yTicks: ET_TICKS,
  yTitle: ET_TITLE,
  yAxisWidth: 88,
  rightPad: 25,
  yTitleBaseX: 33,
  legend: false,
};

export default function App() {
  return (
    <div style={{ position: "fixed", left: 0, top: 0, width: 1002, height: 372, background: "#ffffff", overflow: "hidden" }}>
      <Panel cfg={LEFT_CFG} left={0} width={500} />
      <Panel cfg={RIGHT_CFG} left={500} width={502} />
    </div>
  );
}
